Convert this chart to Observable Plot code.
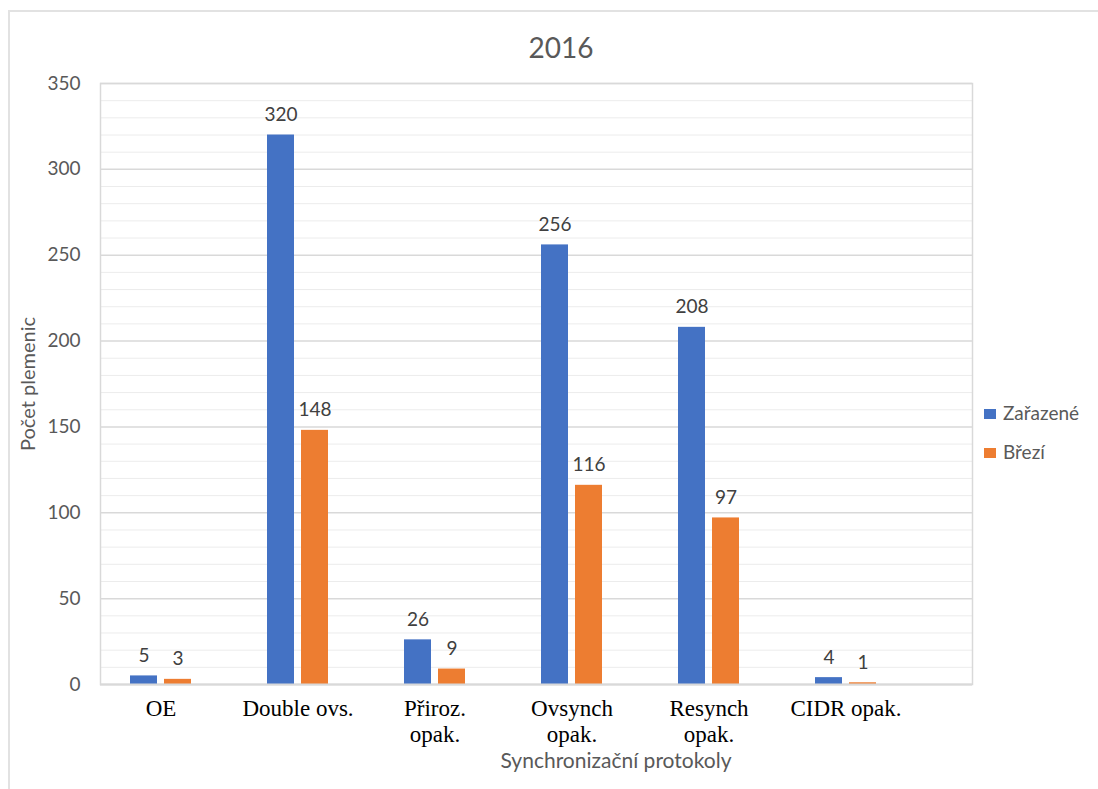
<!DOCTYPE html>
<html><head><meta charset="utf-8">
<script src="https://cdn.jsdelivr.net/npm/d3@7"></script>
<script src="https://cdn.jsdelivr.net/npm/@observablehq/plot@0.6"></script>
<style>
body{margin:0;background:#fff;}
#wrap{position:relative;width:1098px;height:789px;overflow:hidden;background:#fff;}
#wrap svg{position:absolute;left:0;top:0;}
#border{position:absolute;left:8px;top:10px;width:1200px;height:900px;border-left:2px solid #e2e2e2;border-top:2px solid #e2e2e2;}
</style></head><body><div id="wrap"><div id="border"></div></div>
<script>
// ---- data ----
const title = "2016";
const categories = ["OE", "Double ovs.", "Přiroz. opak.", "Ovsynch opak.", "Resynch opak.", "CIDR opak."];
const zarazene = [5, 320, 26, 256, 208, 4];
const brezi = [3, 148, 9, 116, 97, 1];
const seriesNames = ["Zařazené", "Březí"];
const seriesColors = ["#4472C4", "#ED7D31"];
const yMajorTicks = [0, 50, 100, 150, 200, 250, 300, 350];
const yMinorTicks = [10,20,30,40,60,70,80,90,110,120,130,140,160,170,180,190,210,220,230,240,260,270,280,290,310,320,330,340];
const yLabel = "Počet plemenic";
const xLabel = "Synchronizační protokoly";
const wrapped = new Set(["Přiroz. opak.", "Ovsynch opak.", "Resynch opak."]);

const rowsZ = categories.map((c, i) => ({category: c, value: zarazene[i]}));
const rowsB = categories.map((c, i) => ({category: c, value: brezi[i]}));

const W = 1098, H = 789;
const sans = "Lato, 'Open Sans', sans-serif";

const plot = Plot.plot({
  width: W, height: H,
  marginLeft: 100, marginRight: 126, marginTop: 83, marginBottom: 105,
  style: {background: "transparent", overflow: "visible"},
  x: {domain: categories, range: [92, 914], padding: 0, axis: null},
  y: {domain: [0, 350], axis: null},
  marks: [
    Plot.ruleY(yMinorTicks, {stroke: "#ececec", strokeWidth: 1}),
    Plot.ruleY(yMajorTicks, {stroke: "#d9d9d9", strokeWidth: 1.5}),
    Plot.frame({stroke: "#d9d9d9", strokeWidth: 1.5}),
    Plot.barY(rowsZ, {x: "category", y: "value", fill: seriesColors[0], insetLeft: 38, insetRight: 72}),
    Plot.barY(rowsB, {x: "category", y: "value", fill: seriesColors[1], insetLeft: 72, insetRight: 38}),
    Plot.ruleY([0], {stroke: "#d9d9d9", strokeWidth: 2}),
    Plot.text(rowsZ, {x: "category", y: "value", text: d => String(d.value), dx: -17, dy: -14, lineAnchor: "bottom", fontSize: 19, fontFamily: sans, fill: "#404040"}),
    Plot.text(rowsB, {x: "category", y: "value", text: d => String(d.value), dx: 17, dy: -14, lineAnchor: "bottom", fontSize: 19, fontFamily: sans, fill: "#404040"}),
    Plot.axisY({ticks: yMajorTicks, tickSize: 0, tickPadding: 20, fontSize: 19, fontFamily: sans, fill: "#595959", label: null}),
    Plot.axisX({tickSize: 0, tickPadding: 13, fontSize: 23, fontFamily: "'Liberation Serif', 'Times New Roman', serif", fill: "#000", lineHeight: 1.12, label: null,
      tickFormat: d => wrapped.has(d) ? d.replace(" ", "\n") : d})
  ]
});
document.getElementById("wrap").appendChild(plot);

// ---- overlay: title, axis titles, legend ----
const ov = d3.select("#wrap").append("svg").attr("width", W).attr("height", H)
  .style("font-family", sans);
ov.append("text").attr("x", 561).attr("y", 58).attr("text-anchor", "middle")
  .attr("font-size", 28).attr("fill", "#595959").text(title);
ov.append("text").attr("transform", "translate(35,384) rotate(-90)").attr("text-anchor", "middle")
  .attr("font-size", 20).attr("fill", "#595959").text(yLabel);
ov.append("text").attr("x", 616).attr("y", 768).attr("text-anchor", "middle")
  .attr("font-size", 21).attr("fill", "#595959").text(xLabel);
const leg = ov.selectAll("g.leg").data(seriesNames).join("g").attr("class", "leg")
  .attr("transform", (d, i) => `translate(984,${409 + i * 39})`);
leg.append("rect").attr("width", 12).attr("height", 10).attr("fill", (d, i) => seriesColors[i]);
leg.append("text").attr("x", 19).attr("y", 11).attr("font-size", 19).attr("fill", "#595959").text(d => d);
</script>
</body></html>
